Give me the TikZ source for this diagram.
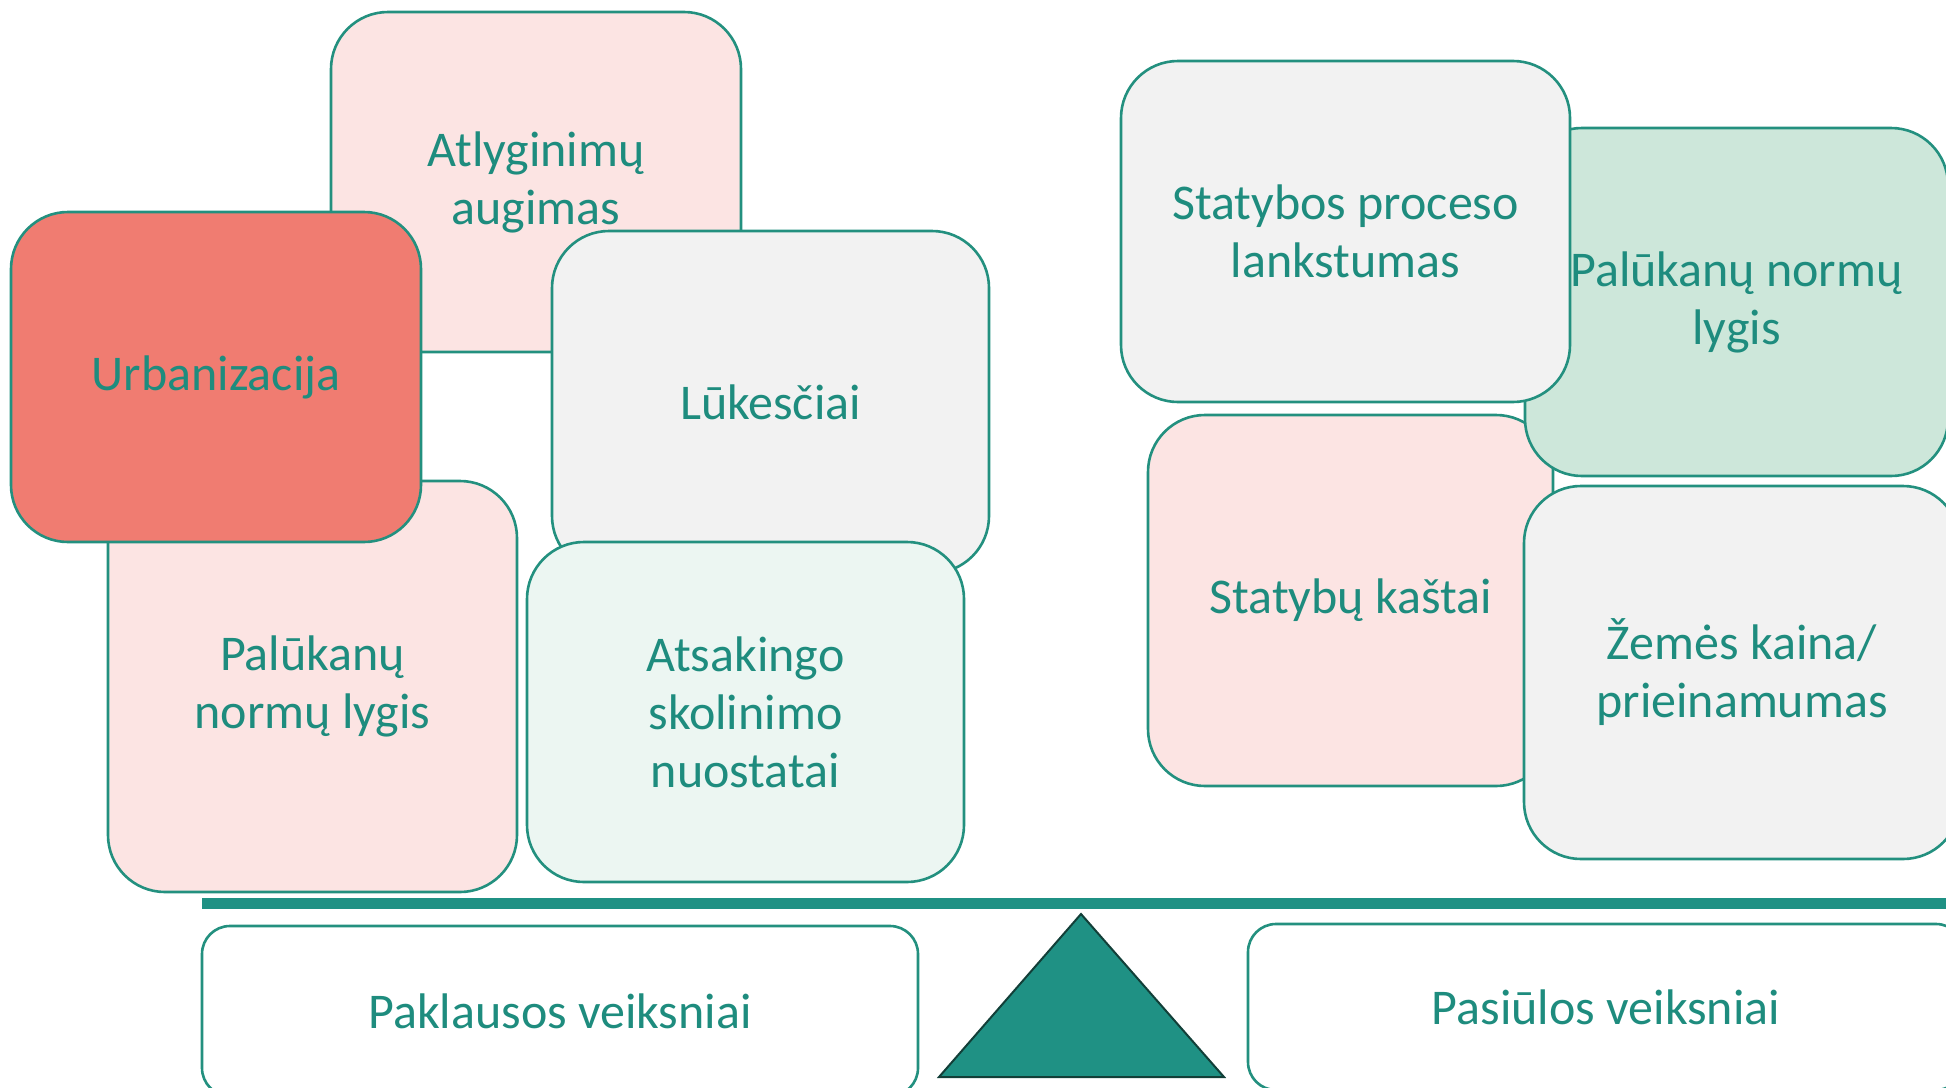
\documentclass[tikz,border=0pt]{standalone}
\usepackage{fontspec}
\setmainfont{Carlito}
\begin{document}
\begin{tikzpicture}[x=1pt,y=-1pt,
  card/.style={draw=edge, line width=2.6pt, rounded corners=57pt, align=center,
    inner sep=0pt, text=ink, font=\fontsize{50}{58}\selectfont},
  tag/.style={card, rounded corners=28pt, fill=white}]
\definecolor{edge}{HTML}{23907F}
\definecolor{ink}{HTML}{1E8C7E}
\definecolor{teal}{HTML}{1F9184}
\definecolor{rose}{HTML}{FCE4E3}
\definecolor{salmon}{HTML}{F07C71}
\definecolor{pale}{HTML}{F2F2F2}
\definecolor{mint}{HTML}{ECF6F2}
\definecolor{sage}{HTML}{CDE7DA}
\definecolor{shade}{HTML}{123F38}
\useasboundingbox (0,0) rectangle (1946,1087);
\clip (0,0) rectangle (1946,1087);

% demand side
\node[card, fill=rose, minimum width=410pt, minimum height=340pt] (atl) at (536,182) {Atlyginimų\\augimas};
\node[card, fill=rose, minimum width=409pt, minimum height=411pt] (pal1) at (312.5,686.5) {Palūkanų\\normų lygis};
\node[card, fill=salmon, minimum width=410pt, minimum height=330pt] (urb) at (216,377) {Urbanizacija};
\node[card, fill=pale, minimum width=437pt, minimum height=342pt] (luk) at (770.5,402) {Lūkesčiai};
\node[card, fill=mint, minimum width=437pt, minimum height=340pt] (ats) at (745.5,712) {Atsakingo\\skolinimo\\nuostatai};

% supply side
\node[card, fill=rose, minimum width=405pt, minimum height=371pt] (stk) at (1350.5,600.5) {Statybų kaštai};
\node[card, fill=sage, minimum width=423pt, minimum height=348pt] (pal2) at (1736.5,302) {Palūkanų normų\\lygis};
\node[card, fill=pale, minimum width=449pt, minimum height=341pt] (stp) at (1345.5,231.5) {Statybos proceso\\lankstumas};
\node[card, fill=pale, minimum width=436pt, minimum height=373pt] (zem) at (1742,672.5) {Žemės kaina/\\prieinamumas};

% balance beam and pivot
\fill[teal] (202,898) rectangle (1960,909);
\coordinate (apex) at (1081,914);
\coordinate (bl) at (939,1077);
\coordinate (br) at (1224,1077);
\filldraw[fill=teal, draw=shade, line width=2pt, line join=miter] (apex) -- (br) -- (bl) -- cycle;

% side labels
\node[tag, minimum width=716pt, minimum height=170pt] (dem) at (560,1011) {Paklausos veiksniai};
\node[tag, minimum width=716pt, minimum height=166pt] (sup) at (1606,1007) {Pasiūlos veiksniai};
\end{tikzpicture}
\end{document}
